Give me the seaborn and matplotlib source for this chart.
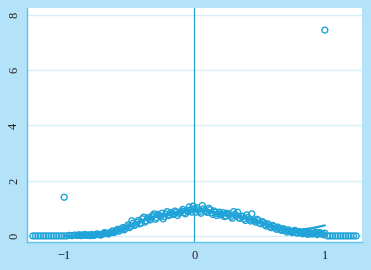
import matplotlib
matplotlib.use("Agg")
import matplotlib.pyplot as plt
import seaborn as sns
import pandas as pd

# ---- data ----
x_vals = [-1.24, -1.22, -1.20, -1.18, -1.16, -1.14, -1.12, -1.10, -1.08, -1.06,
          -1.04, -1.02, -1.00, -0.98, -0.96, -0.94, -0.92, -0.90, -0.88, -0.86,
          -0.84, -0.82, -0.80, -0.78, -0.76, -0.74, -0.72, -0.70, -0.68, -0.66,
          -0.64, -0.62, -0.60, -0.58, -0.56, -0.54, -0.52, -0.50, -0.48, -0.46,
          -0.44, -0.42, -0.40, -0.38, -0.36, -0.34, -0.32, -0.30, -0.28, -0.26,
          -0.24, -0.22, -0.20, -0.18, -0.16, -0.14, -0.12, -0.10, -0.08, -0.06,
          -0.04, -0.02, 0.00, 0.02, 0.04, 0.06, 0.08, 0.10, 0.12, 0.14,
          0.16, 0.18, 0.20, 0.22, 0.24, 0.26, 0.28, 0.30, 0.32, 0.34,
          0.36, 0.38, 0.40, 0.42, 0.44, 0.46, 0.48, 0.50, 0.52, 0.54,
          0.56, 0.58, 0.60, 0.62, 0.64, 0.66, 0.68, 0.70, 0.72, 0.74,
          0.76, 0.78, 0.80, 0.82, 0.84, 0.86, 0.88, 0.90, 0.92, 0.94,
          0.96, 0.98, 1.00, 1.02, 1.04, 1.06, 1.08, 1.10, 1.12, 1.14,
          1.16, 1.18, 1.20, 1.22, 1.24]
y_vals = [0.00, 0.00, 0.00, 0.00, 0.00, 0.00, 0.00, 0.00, 0.00, 0.00,
          0.00, 0.00, 0.00, 0.00, 0.02, 0.01, 0.03, 0.02, 0.04, 0.02,
          0.05, 0.03, 0.01, 0.02, 0.04, 0.06, 0.03, 0.08, 0.10, 0.07,
          0.14, 0.12, 0.20, 0.17, 0.26, 0.22, 0.33, 0.30, 0.55, 0.38,
          0.50, 0.44, 0.62, 0.50, 0.66, 0.58, 0.74, 0.60, 0.78, 0.70,
          0.62, 0.80, 0.74, 0.84, 0.78, 0.86, 0.82, 0.90, 0.84, 0.92,
          1.05, 0.86, 0.98, 1.02, 0.88, 1.10, 0.92, 0.85, 0.95, 0.78,
          0.86, 0.80, 0.76, 0.84, 0.72, 0.80, 0.70, 0.88, 0.74, 0.66,
          0.72, 0.62, 0.76, 0.60, 0.80, 0.54, 0.60, 0.46, 0.52, 0.40,
          0.44, 0.32, 0.38, 0.28, 0.32, 0.22, 0.26, 0.18, 0.22, 0.15,
          0.18, 0.12, 0.16, 0.10, 0.14, 0.08, 0.12, 0.07, 0.10, 0.05,
          0.12, 0.06, 0.10, 0.00, 0.00, 0.00, 0.00, 0.00, 0.00, 0.00,
          0.00, 0.00, 0.00, 0.00, 0.00]

x_vals2 = [-0.89, -0.87, -0.85, -0.83, -0.81, -0.79, -0.77, -0.75, -0.73, -0.71,
           -0.69, -0.67, -0.65, -0.63, -0.61, -0.59, -0.57, -0.55, -0.53, -0.51,
           -0.49, -0.47, -0.45, -0.43, -0.41, -0.39, -0.37, -0.35, -0.33, -0.31,
           -0.29, -0.27, -0.25, -0.23, -0.21, -0.19, -0.17, -0.15, -0.13, -0.11,
           -0.09, -0.07, -0.05, -0.03, -0.01, 0.01, 0.03, 0.05, 0.07, 0.09,
           0.11, 0.13, 0.15, 0.17, 0.19, 0.21, 0.23, 0.25, 0.27, 0.29,
           0.31, 0.33, 0.35, 0.37, 0.39, 0.41, 0.43, 0.45, 0.47, 0.49,
           0.51, 0.53, 0.55, 0.57, 0.59, 0.61, 0.63, 0.65, 0.67, 0.69,
           0.71, 0.73, 0.75, 0.77, 0.79, 0.81, 0.83, 0.85, 0.87, 0.89,
           0.91, 0.93, 0.95, 0.97, 0.99]
y_vals2 = [0.03, 0.01, 0.04, 0.02, 0.03, 0.05, 0.02, 0.07, 0.05, 0.06,
           0.12, 0.09, 0.11, 0.18, 0.15, 0.24, 0.21, 0.30, 0.27, 0.40,
           0.35, 0.46, 0.42, 0.56, 0.47, 0.68, 0.55, 0.62, 0.70, 0.80,
           0.66, 0.74, 0.82, 0.70, 0.88, 0.76, 0.80, 0.90, 0.74, 0.86,
           0.96, 0.80, 0.88, 0.94, 1.08, 0.86, 0.94, 0.82, 0.98, 0.88,
           1.00, 0.84, 0.90, 0.74, 0.86, 0.78, 0.70, 0.82, 0.76, 0.64,
           0.78, 0.86, 0.64, 0.70, 0.56, 0.66, 0.54, 0.58, 0.50, 0.56,
           0.44, 0.48, 0.36, 0.40, 0.30, 0.34, 0.24, 0.28, 0.20, 0.24,
           0.14, 0.18, 0.12, 0.20, 0.10, 0.13, 0.08, 0.11, 0.06, 0.10,
           0.09, 0.14, 0.08, 0.10, 0.04]

outlier_x = [-1.00, 1.00]
outlier_y = [1.40, 7.45]

fit_x = [-1.0, -0.9, -0.8, -0.7, -0.6, -0.5, -0.4, -0.3, -0.2, -0.1, 0.0,
         0.1, 0.2, 0.3, 0.4, 0.5, 0.6, 0.7, 0.8, 0.9, 1.0]
fit_y = [0.00, 0.01, 0.03, 0.08, 0.19, 0.38, 0.56, 0.70, 0.80, 0.88, 0.93,
         0.90, 0.82, 0.74, 0.63, 0.50, 0.36, 0.25, 0.22, 0.28, 0.38]

x_ticks = [-1, 0, 1]
x_tick_labels = ["\u22121", "0", "1"]
y_ticks = [0, 2, 4, 6, 8]
y_tick_labels = ["0", "2", "4", "6", "8"]

# ---- style ----
BG = "#b4e2f8"
GRID = "#d5eef9"
AXC = "#5cc4e8"
MARK = "#1fa3d8"

sns.set_theme(style="white")
plt.rcParams["font.family"] = ["Liberation Serif", "DejaVu Serif"]

pts = pd.DataFrame({"x": x_vals + x_vals2 + outlier_x,
                    "y": y_vals + y_vals2 + outlier_y})
fit = pd.DataFrame({"x": fit_x, "y": fit_y})

fig = plt.figure(figsize=(3.71, 2.70), dpi=100, facecolor=BG)
ax = fig.add_axes([0.0728, 0.1037, 0.9029, 0.8667])
ax.set_facecolor("white")

for yt in y_ticks:
    ax.axhline(yt, color=GRID, lw=1.0, zorder=0)
ax.axvline(0, color="#2aa3c9", lw=0.9, zorder=1)

sns.scatterplot(data=pts, x="x", y="y", ax=ax, marker="o", s=18,
                facecolors="none", edgecolor=MARK, linewidth=1.0, zorder=3)
sns.lineplot(data=fit, x="x", y="y", ax=ax, color=MARK, lw=1.6, zorder=4)

ax.set_xlim(-1.285, 1.285)
ax.set_ylim(-0.22, 8.25)
ax.set_xticks(x_ticks)
ax.set_xticklabels(x_tick_labels)
ax.set_yticks(y_ticks)
ax.set_yticklabels(y_tick_labels, rotation=90, va="center")
ax.set_xlabel("")
ax.set_ylabel("")

for s in ["top", "right"]:
    ax.spines[s].set_visible(False)
for s in ["left", "bottom"]:
    ax.spines[s].set_color(AXC)
    ax.spines[s].set_linewidth(1.0)

ax.tick_params(axis="both", direction="out", length=4, width=0.8,
               color=AXC, labelsize=9, labelcolor="#222222", pad=2)
ax.tick_params(axis="y", pad=1)

fig.savefig("out.png", dpi=100, facecolor=BG)
